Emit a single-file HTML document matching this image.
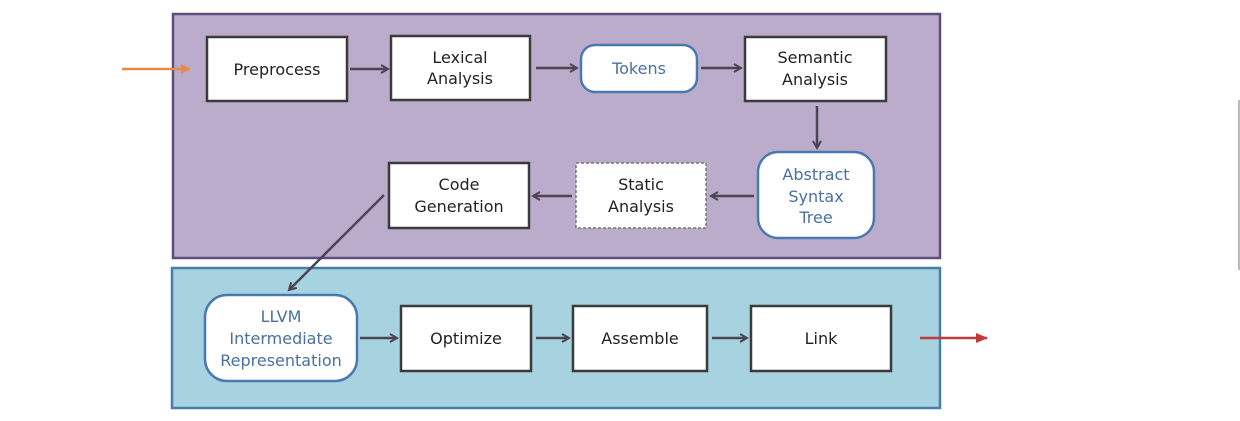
<!DOCTYPE html>
<html><head><style>body{margin:0;background:#fff}svg{display:block}</style></head><body>
<svg width="1240" height="421" viewBox="0 0 1240 421" xmlns="http://www.w3.org/2000/svg" font-family="'DejaVu Sans', 'Liberation Sans', sans-serif" font-size="16" text-anchor="middle">
<defs>
<marker id="a" markerWidth="10" markerHeight="10" refX="8" refY="5" orient="auto" markerUnits="userSpaceOnUse"><path d="M1,1 L8,5 L1,9" fill="none" stroke="#4a4550" stroke-width="2"/></marker>
<marker id="o" markerWidth="10" markerHeight="10" refX="9" refY="5" orient="auto" markerUnits="userSpaceOnUse"><path d="M0,0 L10,5 L0,10z" fill="#e8884a"/></marker>
<marker id="r" markerWidth="12" markerHeight="12" refX="11" refY="6" orient="auto" markerUnits="userSpaceOnUse"><path d="M0,1 L12,6 L0,11z" fill="#c0393b"/></marker>
</defs>
<rect x="173" y="14" width="767" height="244" fill="#bcaccc" stroke="#5c4d7a" stroke-width="2.5"/>
<rect x="172" y="268" width="768" height="140" fill="#a6d3df" stroke="#4a7ea8" stroke-width="2.5"/>
<line x1="1239" y1="100" x2="1239" y2="270" stroke="#bbb" stroke-width="2"/>
<g fill="#fff" stroke="#3b3b3b" stroke-width="2.5">
<rect x="207" y="37" width="140" height="64"/>
<rect x="391" y="36" width="139" height="64"/>
<rect x="745" y="37" width="141" height="64"/>
<rect x="389" y="163" width="140" height="65"/>
<rect x="401" y="306" width="130" height="65"/>
<rect x="573" y="306" width="134" height="65"/>
<rect x="751" y="306" width="140" height="65"/>
</g>
<rect x="576" y="163" width="130" height="65" fill="#fff" stroke="#777" stroke-width="1.5" stroke-dasharray="3,2"/>
<g fill="#fff" stroke="#4a78b0" stroke-width="2.5">
<rect x="581" y="45" width="116" height="47" rx="14"/>
<rect x="758" y="152" width="116" height="86" rx="20"/>
<rect x="205" y="295" width="152" height="86" rx="22"/>
</g>
<g stroke="#4a4550" stroke-width="2.5" fill="none" marker-end="url(#a)">
<line x1="350" y1="69" x2="388" y2="69"/>
<line x1="536" y1="68" x2="577" y2="68"/>
<line x1="701" y1="68" x2="741" y2="68"/>
<line x1="817" y1="106" x2="817" y2="148"/>
<line x1="754" y1="196" x2="711" y2="196"/>
<line x1="572" y1="196" x2="533" y2="196"/>
<line x1="384" y1="195" x2="289" y2="290"/>
<line x1="360" y1="338" x2="397" y2="338"/>
<line x1="536" y1="338" x2="569" y2="338"/>
<line x1="712" y1="338" x2="747" y2="338"/>
</g>
<line x1="122" y1="69" x2="190" y2="69" stroke="#e8884a" stroke-width="2.5" marker-end="url(#o)"/>
<line x1="920" y1="338" x2="987" y2="338" stroke="#c0393b" stroke-width="2.5" marker-end="url(#r)"/>
<g fill="#222">
<text x="277" y="75">Preprocess</text>
<text x="460" y="63">Lexical</text><text x="460" y="84">Analysis</text>
<text x="815" y="63">Semantic</text><text x="815" y="85">Analysis</text>
<text x="459" y="190">Code</text><text x="459" y="212">Generation</text>
<text x="641" y="190">Static</text><text x="641" y="212">Analysis</text>
<text x="466" y="344">Optimize</text>
<text x="640" y="344">Assemble</text>
<text x="821" y="344">Link</text>
</g>
<g fill="#4a6fa0">
<text x="639" y="74">Tokens</text>
<text x="816" y="180">Abstract</text><text x="816" y="202">Syntax</text><text x="816" y="223">Tree</text>
<text x="281" y="322">LLVM</text><text x="281" y="344">Intermediate</text><text x="281" y="366">Representation</text>
</g>
</svg>
</body></html>
